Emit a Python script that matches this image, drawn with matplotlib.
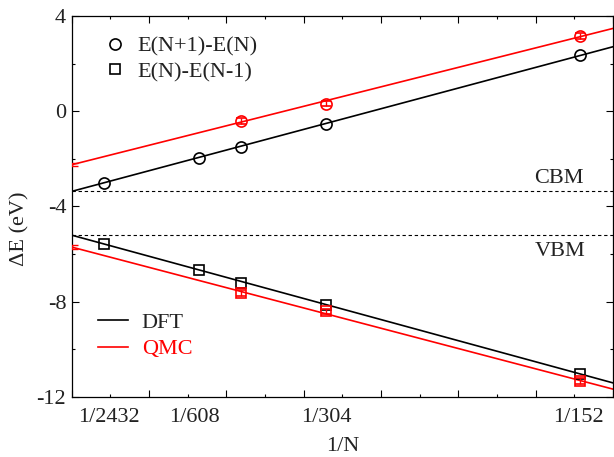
import numpy as np
import matplotlib
matplotlib.use("Agg")
import matplotlib.pyplot as plt
from matplotlib.lines import Line2D
from matplotlib.ticker import MultipleLocator
import matplotlib.transforms as mtransforms

plt.rcParams['font.family'] = ['Liberation Serif', 'DejaVu Serif']

# ---------------- data ----------------
dft_N = [2432, 608, 456, 304, 152]
dft_add = [-3.03, -1.97, -1.50, -0.52, 2.36]      # E(N+1)-E(N)
dft_rem = [-5.57, -6.68, -7.20, -8.13, -11.05]    # E(N)-E(N-1)

qmc_N = [456, 304, 152]
qmc_add = [-0.42, 0.32, 3.16]
qmc_rem = [-7.65, -8.41, -11.35]
qmc_err = [0.12, 0.10, 0.12]

# linear fits: intercept (1/N -> 0) and slope
fit_dft_add = (-3.37, 868.6)
fit_dft_rem = (-5.21, -887.0)
fit_qmc_add = (-2.25, 818.6)
fit_qmc_rem = (-5.71, -853.0)
qmc_extrap_err = [0.07, 0.07]

cbm = -3.37
vbm = -5.21

xtick_N = [2432, 608, 304, 152]
xtick_labels = ['1/2432', '1/608', '1/304', '1/152']
ytick_vals = [4, 0, -4, -8, -12]

# ---------------- figure ----------------
fig = plt.figure(figsize=(6.14, 4.57), dpi=100)
ax = fig.add_axes([0.1168, 0.1319, 0.8816, 0.8330])

xmin, xmax = 0.0, 0.007
ymin, ymax = -12, 4
fs = 16
txtc = '#222222'

xx = np.array([xmin, xmax])
for (b, m), c in [(fit_dft_add, 'black'), (fit_dft_rem, 'black'),
                  (fit_qmc_add, 'red'), (fit_qmc_rem, 'red')]:
    ax.plot(xx, b + m * xx, color=c, lw=1.2, zorder=2)

ax.axhline(cbm, color='black', lw=0.8, ls=(0, (3, 2.5)), zorder=1)
ax.axhline(vbm, color='black', lw=0.8, ls=(0, (3, 2.5)), zorder=1)

dx = 1.0 / np.array(dft_N)
qx = 1.0 / np.array(qmc_N)
ax.plot(dx, dft_add, 'o', ms=8, mfc='none', mec='black', mew=1.2, zorder=3)
ax.plot(dx, dft_rem, 's', ms=6.5, mfc='none', mec='black', mew=1.2, zorder=3)
ax.errorbar(qx, qmc_add, yerr=qmc_err, fmt='o', ms=8, mfc='none', mec='red',
            mew=1.2, ecolor='red', elinewidth=1.0, capsize=3.5, capthick=1.0, zorder=3)
ax.errorbar(qx, qmc_rem, yerr=qmc_err, fmt='s', ms=6.5, mfc='none', mec='red',
            mew=1.2, ecolor='red', elinewidth=1.0, capsize=3.5, capthick=1.0, zorder=3)
# extrapolated QMC values at 1/N = 0
ax.errorbar([0, 0], [fit_qmc_add[0], fit_qmc_rem[0]], yerr=qmc_extrap_err, fmt='none',
            ecolor='red', elinewidth=1.0, capsize=4, capthick=1.0, zorder=3)

ax.set_xlim(xmin, xmax)
ax.set_ylim(ymin, ymax)

ax.xaxis.set_major_locator(MultipleLocator(0.001))
ax.xaxis.set_minor_locator(MultipleLocator(0.0005))
ax.set_xticklabels([])
ax.set_yticks(ytick_vals)
ax.set_yticklabels([str(v) for v in ytick_vals])
ax.yaxis.set_minor_locator(MultipleLocator(2))
ax.tick_params(which='both', direction='in', top=True, right=True,
               width=0.8, colors='black', labelcolor=txtc, labelsize=fs)
ax.tick_params(which='major', length=5, pad=4)
ax.tick_params(which='minor', length=2.5)
for s in ax.spines.values():
    s.set_linewidth(0.9)

# x tick labels (slight pixel nudges as in the original figure)
label_nudge_px = [5, -4, 0, -2]
for n, lab, dpx in zip(xtick_N, xtick_labels, label_nudge_px):
    tr = ax.get_xaxis_transform() + mtransforms.ScaledTranslation(dpx / 100.0, 0, fig.dpi_scale_trans)
    ax.text(1.0 / n, -0.054, lab, transform=tr,
            ha='center', va='center', fontsize=fs, color=txtc)

ax.text(0.5, -0.132, '1/N', transform=ax.transAxes, ha='center', va='center',
        fontsize=fs, color=txtc)
fig.text(0.033, 0.5, 'ΔE (eV)', rotation=90, ha='center', va='center',
         fontsize=fs, color=txtc)

ax.text(0.945, -2.82, 'CBM', ha='right', va='center', fontsize=fs, color=txtc,
        transform=ax.get_yaxis_transform())
ax.text(0.949, -5.89, 'VBM', ha='right', va='center', fontsize=fs, color=txtc,
        transform=ax.get_yaxis_transform())

h1 = [Line2D([], [], marker='o', ls='none', ms=8, mfc='none', mec='black', mew=1.2),
      Line2D([], [], marker='s', ls='none', ms=6.5, mfc='none', mec='black', mew=1.2)]
leg1 = ax.legend(h1, ['E(N+1)-E(N)', 'E(N)-E(N-1)'], loc='upper left',
                 bbox_to_anchor=(0.0596, 0.948), frameon=False, fontsize=fs,
                 handlelength=1.0, handletextpad=0.5, labelspacing=0.23,
                 borderpad=0, borderaxespad=0, labelcolor=txtc)
ax.add_artist(leg1)

h2 = [Line2D([], [], color='black', lw=1.2), Line2D([], [], color='red', lw=1.2)]
leg2 = ax.legend(h2, ['DFT', 'QMC'], loc='upper left',
                 bbox_to_anchor=(0.0485, 0.222), frameon=False, fontsize=fs,
                 handlelength=1.35, handletextpad=0.62, labelspacing=0.27,
                 borderpad=0, borderaxespad=0, labelcolor=[txtc, 'red'])

fig.savefig('out.png', dpi=100)
